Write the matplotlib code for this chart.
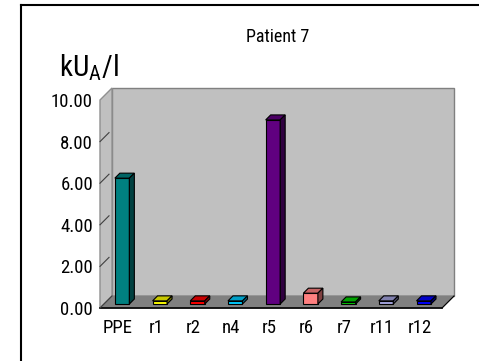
import matplotlib.pyplot as plt
import matplotlib.patches as patches
from matplotlib.lines import Line2D
from matplotlib.colors import to_rgb

plt.rcParams['font.family'] = ['Roboto Condensed', 'Liberation Sans', 'DejaVu Sans']

categories = ['PPE', 'r1', 'r2', 'n4', 'r5', 'r6', 'r7', 'r11', 'r12']
values = [6.05, 0.15, 0.15, 0.15, 8.85, 0.52, 0.1, 0.15, 0.15]
colors = ['#008080', '#ffff00', '#ff0000', '#00ccff', '#600080',
          '#ff8080', '#00d000', '#a6a6e0', '#0000ff']
yticks = [0, 2, 4, 6, 8, 10]

W, H = 479, 361
fig = plt.figure(figsize=(W / 100, H / 100), dpi=100)

# front plane of the 3d box
left, right, bottom, top = 100, 442, 308, 100
ax = fig.add_axes([left / W, (H - bottom) / H, (right - left) / W, (bottom - top) / H])
x0, x1 = -0.48, 8.59
ax.set_xlim(x0, x1)
ax.set_ylim(0, 10)
ux = (x1 - x0) / (right - left)   # data units per pixel
uy = 10 / (bottom - top)

def shift(x, y, px):
    # move a point back into the box by px pixels
    return (x + px * ux, y + px * uy)

DEPTH = 12      # box depth in px
BAR_OFF = 4     # bars sit this far behind the front plane
BAR_D = 5       # bar depth
bar_w = 14.5 * ux

# walls and floor
back = [shift(x0, 0, DEPTH), shift(x1, 0, DEPTH), shift(x1, 10, DEPTH), shift(x0, 10, DEPTH)]
side = [(x0, 0), shift(x0, 0, DEPTH), shift(x0, 10, DEPTH), (x0, 10)]
floor = [(x0, 0), (x1, 0), shift(x1, 0, DEPTH), shift(x0, 0, DEPTH)]
ax.add_patch(patches.Polygon(back, closed=True, fc='#c0c0c0', ec='#808080', lw=1, clip_on=False, zorder=1))
ax.add_patch(patches.Polygon(side, closed=True, fc='#c0c0c0', ec='#909090', lw=1, clip_on=False, zorder=1))
ax.add_patch(patches.Polygon(floor, closed=True, fc='#808080', ec='#808080', lw=0.8, clip_on=False, zorder=2))
ax.plot([x0, x1], [0, 0], color='black', lw=1.2, clip_on=False, zorder=2)
ax.plot(*zip((x1, 0), shift(x1, 0, DEPTH)), color='black', lw=0.8, clip_on=False, zorder=2)
ax.plot(*zip((x0, 0), shift(x0, 0, DEPTH)), color='#404040', lw=0.8, clip_on=False, zorder=2)

# tick marks drawn as diagonals on the left wall
for v in yticks[1:-1]:
    ax.plot(*zip((x0, v), shift(x0, v, 9)), color='#404040', lw=0.8, clip_on=False, zorder=2)

def shade(c, k):
    r, g, b = to_rgb(c)
    return (r * k, g * k, b * k)

# 3d bars
for i, (v, c) in enumerate(zip(values, colors)):
    L, B = shift(i - bar_w / 2, 0, BAR_OFF)
    R, T = shift(i + bar_w / 2, v, BAR_OFF)
    ax.add_patch(patches.Rectangle((L, B), R - L, T - B, fc=c, ec='black', lw=0.8, zorder=3))
    top_face = [(L, T), (R, T), shift(R, T, BAR_D), shift(L, T, BAR_D)]
    side_face = [(R, B), shift(R, B, BAR_D), shift(R, T, BAR_D), (R, T)]
    ax.add_patch(patches.Polygon(top_face, closed=True, fc=shade(c, 0.78), ec='black', lw=0.8, zorder=3))
    ax.add_patch(patches.Polygon(side_face, closed=True, fc=shade(c, 0.5), ec='black', lw=0.8, zorder=3))

ax.set_xticks(range(len(categories)))
ax.set_xticklabels(categories, fontsize=13.5)
ax.set_yticks(yticks)
ax.set_yticklabels(['%.2f' % t for t in yticks], fontsize=13.5)
ax.tick_params(length=0)
ax.tick_params(axis='x', pad=8)
ax.tick_params(axis='y', pad=5)
for s in ax.spines.values():
    s.set_visible(False)
ax.patch.set_visible(False)

fig.text(278 / W, 1 - 37 / H, 'Patient 7', fontsize=13, ha='center', va='center')
fig.text(59 / W, 1 - 76 / H, r'kU$_\mathregular{A}$/l', fontsize=21, ha='left', va='baseline')

# outer frame
fig.add_artist(Line2D([21 / W, 21 / W], [0, 1 - 5 / H], color='black', lw=1.5))
fig.add_artist(Line2D([21 / W, 1], [1 - 5 / H, 1 - 5 / H], color='black', lw=1.5))

fig.savefig('out.png', dpi=100)
